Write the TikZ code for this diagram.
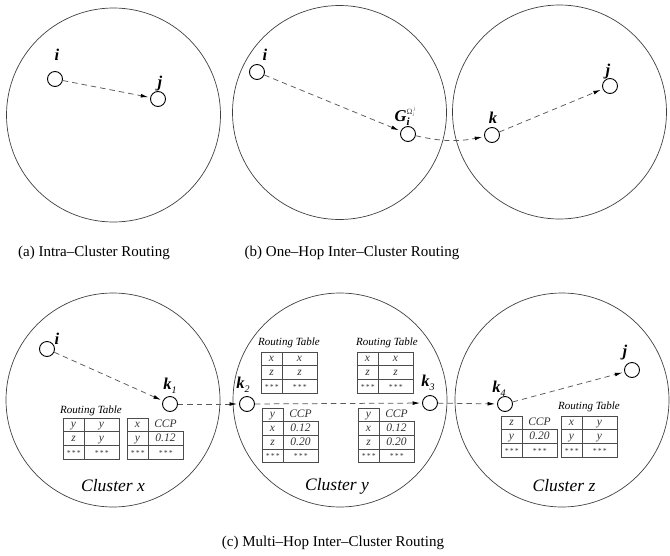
\documentclass[tikz,border=0pt]{standalone}
\usepackage{fontspec}
\setmainfont{Liberation Serif}
\usetikzlibrary{arrows.meta}

\tikzset{
  cluster/.style={circle, draw=black!75, line width=0.7pt, minimum size=214pt, inner sep=0pt},
  host/.style={circle, draw=black, line width=0.9pt, fill=white, minimum size=15pt, inner sep=0pt},
  tag/.style={font=\fontsize{16.5}{16.5}\selectfont\bfseries\itshape, inner sep=0pt},
  hop/.style={draw=black!65, line width=0.75pt, dash pattern=on 5.5pt off 4pt,
    -{Latex[length=7.5pt,width=3.8pt,color=black]}, shorten >=2pt},
  caption/.style={font=\fontsize{15}{15}\selectfont, inner sep=0pt},
  clname/.style={font=\fontsize{17.5}{17.5}\selectfont\itshape, inner sep=0pt},
  tabtitle/.style={font=\fontsize{11}{11}\selectfont\itshape, inner sep=0pt},
  cell/.style={font=\fontsize{11.5}{11.5}\selectfont\itshape, text=black!80, inner sep=0pt,
    text height=7.5pt, text depth=2pt},
  grid/.style={draw=black!70, line width=0.7pt},
}

% three little stars for the "and so on" rows
\newcommand{\trip}{{\fontsize{7.5}{7.5}\selectfont*\,*\,*}}

% routing table: name, top-left x, top-left y, rows a/b
\newcommand{\rtab}[4]{%
  \begin{scope}[shift={(#2,#3)}]
    \foreach \a/\b [count=\n from 0] in {#4}{
      \draw[grid] (0,\n*13.7) rectangle (56,\n*13.7+13.7);
      \draw[grid] (21,\n*13.7) -- (21,\n*13.7+13.7);
      \node[cell] (#1-\n-l) at (10.5,\n*13.7+6.85) {\a};
      \node[cell] (#1-\n-r) at (38.5,\n*13.7+6.85) {\b};
    }
  \end{scope}}

% CCP table: name, top-left x, top-left y, key, rows a/b
\newcommand{\ccptab}[5]{%
  \begin{scope}[shift={(#2,#3)}]
    \draw[grid] (0,0) rectangle (21,13.7);
    \node[cell] (#1-h-l) at (10.5,6.85) {#4};
    \node[cell] (#1-h-r) at (38.5,6.85) {CCP};
    \foreach \a/\b [count=\n from 1] in {#5}{
      \draw[grid] (0,\n*13.7) rectangle (56,\n*13.7+13.7);
      \draw[grid] (21,\n*13.7) -- (21,\n*13.7+13.7);
      \node[cell] (#1-\n-l) at (10.5,\n*13.7+6.85) {\a};
      \node[cell] (#1-\n-r) at (38.5,\n*13.7+6.85) {\b};
    }
  \end{scope}}

\begin{document}
\begin{tikzpicture}[x=1pt,y=-1pt]
\useasboundingbox (0,0) rectangle (670,555);

% ---------- (a) intra-cluster ----------
\node[cluster] (ca) at (113.5,115) {};
\node[host] (ai) at (55,79) {};
\node[host] (aj) at (158,99) {};
\node[tag] (ail) at (57,55) {i};
\node[tag] (ajl) at (160,84) {j};
\draw[hop] (ai) -- (aj);
\node[caption] (capa) at (94,253) {(a) Intra–Cluster Routing};

% ---------- (b) one-hop inter-cluster ----------
\node[cluster] (cb1) at (339.5,112.5) {};
\node[cluster] (cb2) at (559.5,112) {};
\node[host] (bi) at (257,72) {};
\node[host] (bg) at (408,134) {};
\node[host] (bk) at (492,135) {};
\node[host] (bj) at (610,86) {};
\node[tag] (bil) at (265,55) {i};
\node[tag] (bgl) at (405,116) {G\rlap{\raisebox{-4pt}{\fontsize{11}{11}\selectfont i}}\raisebox{7pt}{\fontsize{8}{8}\selectfont\mdseries\upshape\color{black!70}Ω\raisebox{-2pt}{\fontsize{5}{5}\selectfont\itshape i}\raisebox{4pt}{\fontsize{5}{5}\selectfont\itshape j}}};
\node[tag] (bkl) at (493,118) {k};
\node[tag] (bjl) at (608,72) {j};
\draw[hop] (bi) -- (bg);
\draw[hop] (bg) to[bend right=12] (bk);
\draw[hop] (bk) -- (bj);
\node[caption] (capb) at (352,253) {(b) One–Hop Inter–Cluster Routing};

% ---------- (c) multi-hop inter-cluster ----------
\node[cluster] (cx) at (113,400) {};
\node[cluster] (cy) at (340,400) {};
\node[cluster] (cz) at (562,400) {};

\node[host] (ci) at (47,349) {};
\node[host] (k1) at (170,404) {};
\node[host] (k2) at (247,404) {};
\node[host] (k3) at (430,403) {};
\node[host] (k4) at (505,404) {};
\node[host] (cj) at (632,370) {};

\node[tag] (cil) at (57,339) {i};
\node[tag] (k1l) at (170,386) {k\raisebox{-4pt}{\fontsize{10}{10}\selectfont\mdseries 1}};
\node[tag] (k2l) at (243,385) {k\raisebox{-4pt}{\fontsize{10}{10}\selectfont\mdseries 2}};
\node[tag] (k3l) at (428,383) {k\raisebox{-4pt}{\fontsize{10}{10}\selectfont\mdseries 3}};
\node[tag] (k4l) at (499,389) {k\raisebox{-4pt}{\fontsize{10}{10}\selectfont\mdseries 4}};
\node[tag] (cjl) at (625,353) {j};

\draw[hop] (ci) -- (k1);
\draw[hop] (k1) -- (k2);
\draw[hop] (k2) -- (k3);
\draw[hop] (k3) -- (k4);
\draw[hop] (k4) -- (cj);

% cluster x tables
\node[tabtitle] (txt) at (91,411) {Routing Table};
\rtab{tx}{63}{418}{y/y, z/y, \trip/\trip}
\ccptab{px}{127}{418}{x}{y/0.12, \trip/\trip}

% cluster y tables
\node[tabtitle] (tyat) at (289,343) {Routing Table};
\rtab{tya}{261}{352}{x/x, z/z, \trip/\trip}
\node[tabtitle] (tybt) at (387,343) {Routing Table};
\rtab{tyb}{357}{352}{x/x, z/z, \trip/\trip}
\ccptab{pya}{262}{408}{y}{x/0.12, z/0.20, \trip/\trip}
\ccptab{pyb}{358}{408}{y}{x/0.12, z/0.20, \trip/\trip}

% cluster z tables
\ccptab{pz}{501}{416}{z}{y/0.20, \trip/\trip}
\node[tabtitle] (tzt) at (589,407) {Routing Table};
\rtab{tz}{561}{416}{x/y, y/y, \trip/\trip}

\node[clname] (nx) at (113,486) {Cluster x};
\node[clname] (ny) at (337,486) {Cluster y};
\node[clname] (nz) at (564,486) {Cluster z};

\node[caption] (capc) at (333,543) {(c) Multi–Hop Inter–Cluster Routing};
\end{tikzpicture}
\end{document}
